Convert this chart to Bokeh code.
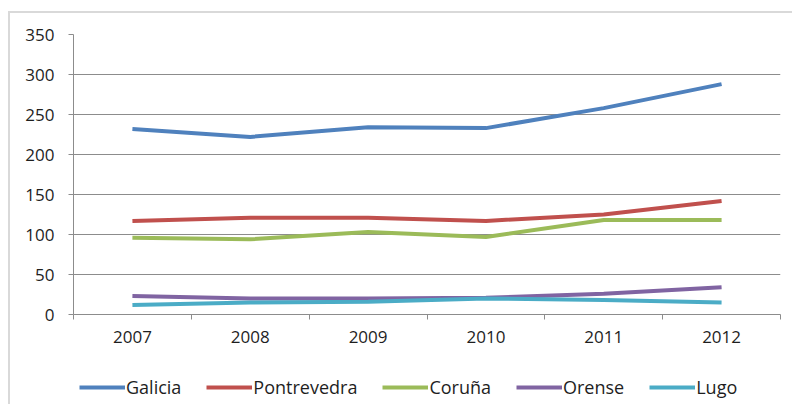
from bokeh.plotting import figure
from bokeh.models import Range1d, FixedTicker, Legend, LegendItem
from bokeh.layouts import column
from bokeh.embed import file_html
from bokeh.resources import INLINE

years = [2007, 2008, 2009, 2010, 2011, 2012]
galicia = [232, 222, 234, 233, 258, 288]
pontrevedra = [117, 121, 121, 117, 125, 142]
coruna = [96, 94, 103, 97, 118, 118]
orense = [23, 20, 20, 21, 26, 34]
lugo = [12, 15, 16, 20, 18, 15]
y_ticks = [0, 50, 100, 150, 200, 250, 300, 350]

series = [
    ("Galicia", galicia, "#4F81BD"),
    ("Pontrevedra", pontrevedra, "#C0504D"),
    ("Coruña", coruna, "#9BBB59"),
    ("Orense", orense, "#8064A2"),
    ("Lugo", lugo, "#4BACC6"),
]

FONT = "Open Sans"
FS = "17px"
GRAY = "#8c8c8c"
TXT = "#1e1e1e"

p = figure(width=782, height=347, output_backend="svg", toolbar_location=None,
           x_range=Range1d(2006.5, 2012.5), y_range=Range1d(0, 350),
           min_border_left=63, min_border_right=12, min_border_top=21, min_border_bottom=46)
p.outline_line_color = None

for name, vals, col in series:
    p.line(years, vals, line_color=col, line_width=4)

p.xgrid.grid_line_color = None
p.ygrid.grid_line_color = GRAY
p.ygrid.grid_line_width = 1

p.yaxis.ticker = FixedTicker(ticks=y_ticks)
p.yaxis.axis_line_color = GRAY
p.yaxis.major_tick_line_color = GRAY
p.yaxis.major_tick_out = 5
p.yaxis.major_tick_in = 0
p.yaxis.minor_tick_line_color = None
p.yaxis.major_label_standoff = 14
p.yaxis.major_label_text_font = FONT
p.yaxis.major_label_text_font_size = FS
p.yaxis.major_label_text_color = TXT

p.xaxis.ticker = FixedTicker(ticks=years, minor_ticks=[y - 0.5 for y in years] + [years[-1] + 0.5])
p.xaxis.axis_line_color = GRAY
p.xaxis.major_tick_line_color = None
p.xaxis.minor_tick_line_color = GRAY
p.xaxis.minor_tick_out = 5
p.xaxis.minor_tick_in = 0
p.xaxis.major_label_standoff = 10
p.xaxis.major_label_text_font = FONT
p.xaxis.major_label_text_font_size = FS
p.xaxis.major_label_text_color = TXT

# legend figure (series lines drawn outside its visible range; only the legend shows)
lf = figure(width=782, height=44, output_backend="svg", toolbar_location=None,
            x_range=Range1d(0, 1), y_range=Range1d(0, 1),
            x_axis_location=None, y_axis_location=None,
            min_border_left=0, min_border_right=0, min_border_top=0, min_border_bottom=0)
lf.outline_line_color = None
lf.grid.grid_line_color = None
items = []
for name, vals, col in series:
    r = lf.line(years, vals, line_color=col, line_width=4)
    items.append(LegendItem(label=name, renderers=[r]))

legend = Legend(items=items, orientation="horizontal", location=(6, 5),
                label_text_font=FONT, label_text_font_size="18px",
                label_text_color=TXT, glyph_width=46, glyph_height=18,
                label_standoff=1, spacing=25, border_line_color=None,
                background_fill_alpha=0, margin=0, padding=4)
lf.add_layout(legend)

layout = column(p, lf, spacing=0)
layout.styles = {"margin-left": "8px", "margin-top": "11px",
                 "border-left": "2px solid #d9d9d9", "border-top": "2px solid #d9d9d9"}

open("out.html", "w").write(file_html(layout, INLINE))
